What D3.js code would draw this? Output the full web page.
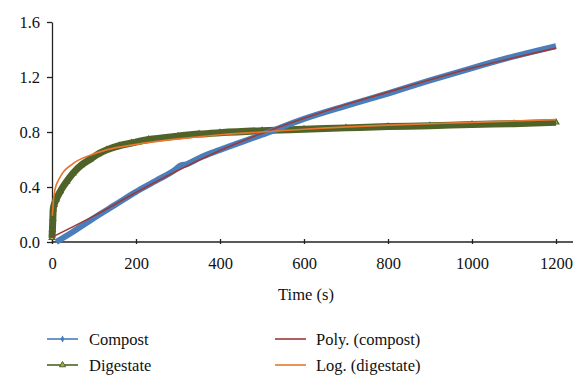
<!DOCTYPE html>
<html>
<head>
<meta charset="utf-8">
<script src="https://cdn.jsdelivr.net/npm/d3@7"></script>
<style>
  body { margin: 0; background: #fff; }
  svg { display: block; }
  text { font-family: "Liberation Serif", "DejaVu Serif", serif; fill: #111; }
</style>
</head>
<body>
<svg id="chart" width="578" height="375"></svg>
<script>
const compostT = [10, 50, 100, 150, 200, 250, 295, 305, 320, 350, 400, 500, 600, 700, 800, 900, 1000, 1100, 1200];
const compostV = [0.0, 0.075, 0.175, 0.27, 0.365, 0.45, 0.53, 0.555, 0.565, 0.61, 0.67, 0.78, 0.895, 0.99, 1.08, 1.175, 1.265, 1.35, 1.425];

const digestT = [0, 1, 2, 3, 5, 10, 20, 35, 50, 70, 90, 110, 130, 160, 190, 230, 300, 350, 400, 500, 600, 700, 800, 900, 1000, 1100, 1200];
const digestV = [0.03, 0.09, 0.17, 0.24, 0.27, 0.31, 0.37, 0.44, 0.5, 0.56, 0.6, 0.64, 0.67, 0.7, 0.72, 0.745, 0.77, 0.785, 0.795, 0.81, 0.82, 0.83, 0.84, 0.845, 0.855, 0.86, 0.87];

// trendlines (as drawn)
const polyT = [0, 100, 200, 300, 400, 500, 600, 700, 800, 900, 1000, 1100, 1200];
const polyV = [0.035, 0.19, 0.36, 0.52, 0.665, 0.79, 0.9, 1.0, 1.09, 1.18, 1.265, 1.34, 1.41];

const logT = [1, 3, 7, 19, 50, 90, 130, 200, 300, 400, 500, 600, 800, 1000, 1200];
const logV = [0.19, 0.29, 0.38, 0.47, 0.57, 0.63, 0.67, 0.71, 0.75, 0.78, 0.80, 0.82, 0.85, 0.87, 0.89];

const xTicks = [0, 200, 400, 600, 800, 1000, 1200];
const yTicks = [0.0, 0.4, 0.8, 1.2, 1.6];

const legendItems = [
  { name: "Compost", color: "#4a7ebb", marker: "diamond", col: 0, row: 0 },
  { name: "Digestate", color: "#4f6228", marker: "triangle", col: 0, row: 1 },
  { name: "Poly. (compost)", color: "#9a3a38", marker: null, col: 1, row: 0 },
  { name: "Log. (digestate)", color: "#e8762d", marker: null, col: 1, row: 1 }
];

const svg = d3.select("#chart");

const x = d3.scaleLinear().domain([0, 1200]).range([52, 556]);
const y = d3.scaleLinear().domain([0, 1.6]).range([242, 22]);

const zip = (ts, vs) => ts.map((t, i) => ({ t, v: vs[i] }));

const line = d3.line()
  .x(d => x(d.t))
  .y(d => y(d.v))
  .curve(d3.curveMonotoneX);

// axes
const yAxis = svg.append("g")
  .attr("transform", "translate(52,0)")
  .call(d3.axisLeft(y).tickValues(yTicks).tickFormat(d3.format(".1f")).tickSize(5).tickSizeOuter(0).tickPadding(7));

const xAxis = svg.append("g")
  .attr("transform", "translate(0,242)")
  .call(d3.axisBottom(x).tickValues(xTicks).tickFormat(d3.format("d")).tickSize(4).tickSizeOuter(0).tickPadding(11));

[yAxis, xAxis].forEach(g => {
  g.selectAll("path, line").attr("stroke", "#222").attr("stroke-width", 1.3);
  g.selectAll("text").attr("font-size", 16.5).attr("font-family", "Liberation Serif, DejaVu Serif, serif").attr("fill", "#111");
});
// x axis line runs a little past the last tick
xAxis.select(".domain").attr("d", `M52,0H573`);
xAxis.selectAll(".tick line").attr("y1", -3).attr("y2", 2);

// digestate markers under its line
svg.append("g").selectAll("path")
  .data(zip(digestT, digestV))
  .join("path")
  .attr("d", d3.symbol(d3.symbolTriangle, 14))
  .attr("transform", d => `translate(${x(d.t)},${y(d.v)})`)
  .attr("fill", "#9bb05c")
  .attr("stroke", "#4f6228")
  .attr("stroke-width", 1.2);

svg.append("path")
  .datum(zip(digestT, digestV))
  .attr("d", line)
  .attr("fill", "none")
  .attr("stroke", "#4f6228")
  .attr("stroke-width", 7)
  .attr("stroke-linejoin", "round");

svg.append("path")
  .datum(zip(compostT, compostV))
  .attr("d", line)
  .attr("fill", "none")
  .attr("stroke", "#4a7ebb")
  .attr("stroke-width", 6)
  .attr("stroke-linejoin", "round");

svg.append("path")
  .datum(zip(polyT, polyV))
  .attr("d", line)
  .attr("fill", "none")
  .attr("stroke", "#9a3a38")
  .attr("stroke-width", 1.6);

svg.append("path")
  .datum(zip(logT, logV))
  .attr("d", line)
  .attr("fill", "none")
  .attr("stroke", "#e8762d")
  .attr("stroke-width", 1.6);

// x axis title
svg.append("text")
  .attr("x", 306)
  .attr("y", 300)
  .attr("text-anchor", "middle")
  .attr("font-size", 16.5)
  .text("Time (s)");

// legend
const legend = svg.append("g");
const item = legend.selectAll("g")
  .data(legendItems)
  .join("g")
  .attr("transform", d => `translate(${d.col ? 275 : 47},${d.row ? 365 : 339})`);

item.append("line")
  .attr("x1", 0).attr("x2", 31)
  .attr("stroke", d => d.color)
  .attr("stroke-width", 1.6);

item.filter(d => d.marker === "diamond").append("path")
  .attr("d", d3.symbol(d3.symbolDiamond, 14))
  .attr("transform", "translate(15.5,0)")
  .attr("fill", d => d.color);

item.filter(d => d.marker === "triangle").append("path")
  .attr("d", d3.symbol(d3.symbolTriangle, 16))
  .attr("transform", "translate(15.5,0)")
  .attr("fill", "#9bb05c")
  .attr("stroke", d => d.color)
  .attr("stroke-width", 1);

item.append("text")
  .attr("x", d => d.col ? 41 : 42)
  .attr("y", 5.5)
  .attr("font-size", 16.5)
  .text(d => d.name);
</script>
</body>
</html>
